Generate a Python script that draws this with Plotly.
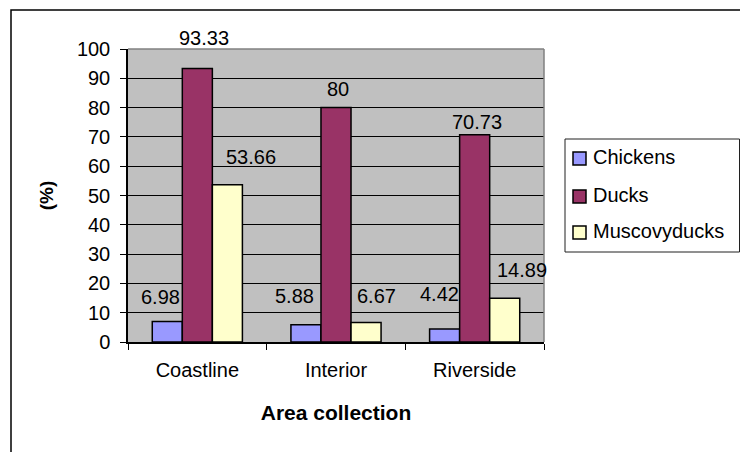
import plotly.graph_objects as go

# Survey results by collection area (%)
areas = ["Coastline", "Interior", "Riverside"]
chickens = [6.98, 5.88, 4.42]
ducks = [93.33, 80, 70.73]
muscovy = [53.66, 6.67, 14.89]

series_names = ["Chickens", "Ducks", "Muscovyducks"]
series_values = [chickens, ducks, muscovy]
series_colors = ["#9999FF", "#993366", "#FFFFCC"]

y_ticks = list(range(0, 101, 10))

# pixel nudges for the value labels (dx, dy) per series, per area
label_nudge = [
    [(-7, 25), (-11, 29), (-5, 35)],
    [(7, 31), (2, 19), (2, 13)],
    [(24, 28), (10, 26), (17, 28)],
]

FONT = "Liberation Sans, Arial"
BARGAP = 0.35
bar_w = (1 - BARGAP) / len(series_names)

fig = go.Figure()
for name, vals, col in zip(series_names, series_values, series_colors):
    fig.add_trace(go.Bar(
        name=name, x=areas, y=vals,
        marker=dict(color=col, line=dict(color="#000000", width=1.5)),
        showlegend=False,
    ))

annotations = []
for k, vals in enumerate(series_values):
    for i, v in enumerate(vals):
        dx, dy = label_nudge[k][i]
        annotations.append(dict(
            x=i + (k - 1) * bar_w, y=v, xref="x", yref="y",
            text=f"{v:g}", showarrow=False,
            xanchor="center", yanchor="middle",
            xshift=dx, yshift=dy,
            font=dict(family=FONT, size=20, color="#000000"),
        ))

L, R, T, B = 128, 196, 49, 110
W, H = 740, 452
pw, ph = W - L - R, H - T - B

def px_x(x):
    return (x - L) / pw

def px_y(y):
    return (H - B - y) / ph

shapes = [
    # outer chart frame
    dict(type="rect", xref="paper", yref="paper",
         x0=px_x(11), x1=px_x(760), y0=px_y(470), y1=px_y(10),
         line=dict(color="#000000", width=1.5), layer="below"),
    # plot-area border on top and right
    dict(type="line", xref="paper", yref="paper", x0=0, x1=1, y0=1, y1=1,
         line=dict(color="#808080", width=1.5)),
    dict(type="line", xref="paper", yref="paper", x0=1, x1=1, y0=0, y1=1,
         line=dict(color="#808080", width=1.5)),
    # legend box
    dict(type="rect", xref="paper", yref="paper",
         x0=px_x(565), x1=px_x(739.5), y0=px_y(252), y1=px_y(139),
         line=dict(color="#202020", width=1), fillcolor="#FFFFFF", layer="below"),
]

# legend entries: swatch + label
legend_rows = [157, 195, 231]
for name, col, yc in zip(series_names, series_colors, legend_rows):
    shapes.append(dict(
        type="rect", xref="paper", yref="paper",
        x0=px_x(573), x1=px_x(586), y0=px_y(yc + 8), y1=px_y(yc - 5),
        line=dict(color="#000000", width=1.5), fillcolor=col,
    ))
    annotations.append(dict(
        x=px_x(591), y=px_y(yc), xref="paper", yref="paper",
        text=name, showarrow=False, xanchor="left", yanchor="middle",
        font=dict(family=FONT, size=20, color="#000000"),
    ))

fig.update_layout(
    width=W, height=H,
    margin=dict(l=L, r=R, t=T, b=B),
    paper_bgcolor="#FFFFFF",
    plot_bgcolor="#C0C0C0",
    barmode="group", bargap=BARGAP, bargroupgap=0,
    font=dict(family=FONT, color="#000000"),
    annotations=annotations,
    shapes=shapes,
    showlegend=False,
)

fig.update_xaxes(
    type="category", range=[-0.5, 2.5],
    showline=True, linecolor="#000000", linewidth=1.5,
    ticks="outside", tickson="boundaries", ticklen=6, tickcolor="#000000",
    tickfont=dict(size=20), ticklabelstandoff=9,
    showgrid=False,
    title=dict(text="<b>Area collection</b>", font=dict(size=21), standoff=26),
)
fig.update_yaxes(
    range=[0, 100], tickvals=y_ticks,
    showline=True, linecolor="#000000", linewidth=1.5,
    ticks="outside", ticklen=6, tickcolor="#000000",
    tickfont=dict(size=20), ticklabelstandoff=6,
    showgrid=True, gridcolor="#000000", gridwidth=1,
    zeroline=False,
    title=dict(text="<b>(%)</b>", font=dict(size=19), standoff=18),
)

fig.write_html("out.html")
